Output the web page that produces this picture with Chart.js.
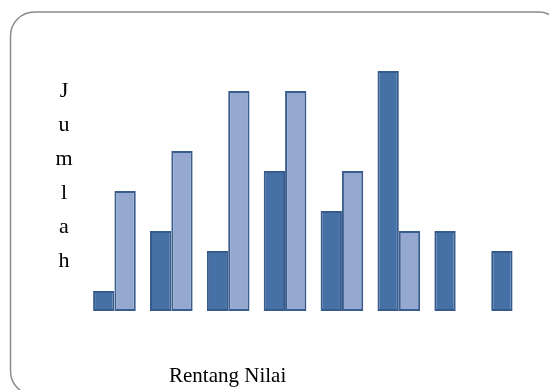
<!DOCTYPE html>
<html>
<head>
<meta charset="utf-8">
<script src="https://cdn.jsdelivr.net/npm/chart.js@4/dist/chart.umd.min.js"></script>
<style>
  html, body { margin: 0; padding: 0; background: #fff; overflow: hidden; }
  #wrap { width: 549px; height: 390px; position: relative; }
  canvas { display: block; }
</style>
</head>
<body>
<div id="wrap"><canvas id="chart" width="549" height="390"></canvas></div>
<script>
const categories = ['1', '2', '3', '4', '5', '6', '7', '8'];
const seriesDark = [1, 4, 3, 7, 5, 12, 4, 3];
const seriesLight = [6, 8, 11, 11, 7, 4, 0, 0];
const yLabel = 'Jumlah';
const xLabel = 'Rentang Nilai';

// frame + axis texts drawn on the canvas
const decorPlugin = {
    id: 'decor',
    beforeDraw(chart) {
        const c = chart.ctx;
        c.save();
        c.strokeStyle = '#8a8a8a';
        c.lineWidth = 1.5;
        c.beginPath();
        c.roundRect(10.5, 12, 552, 383, 24);
        c.stroke();
        c.restore();
    },
    afterDraw(chart) {
        const c = chart.ctx;
        c.save();
        c.fillStyle = '#000';
        c.font = '22px "Liberation Serif", "Times New Roman", serif';
        c.textAlign = 'center';
        c.textBaseline = 'alphabetic';
        yLabel.split('').forEach((ch, i) => {
            c.fillText(ch, 64, 97 + i * 34);
        });
        c.font = '21px "Liberation Serif", "Times New Roman", serif';
        c.textAlign = 'left';
        c.fillText(xLabel, 169, 382);
        c.restore();
    }
};

new Chart(document.getElementById('chart'), {
    type: 'bar',
    data: {
        labels: categories,
        datasets: [{
            data: seriesDark,
            backgroundColor: '#4571a7',
            borderColor: '#375b8b',
            borderWidth: 2,
            borderSkipped: false
        }, {
            data: seriesLight,
            backgroundColor: '#95a9d0',
            borderColor: '#3a5d8d',
            borderWidth: 2,
            borderSkipped: false
        }]
    },
    options: {
        responsive: false,
        animation: false,
        devicePixelRatio: 1,
        layout: { padding: { left: 86, right: 8, top: 71, bottom: 79 } },
        datasets: { bar: { categoryPercentage: 0.75, barPercentage: 1 } },
        plugins: { legend: { display: false }, tooltip: { enabled: false } },
        scales: {
            x: { display: false },
            y: { display: false, min: 0, max: 12 }
        }
    },
    plugins: [decorPlugin]
});
</script>
</body>
</html>
